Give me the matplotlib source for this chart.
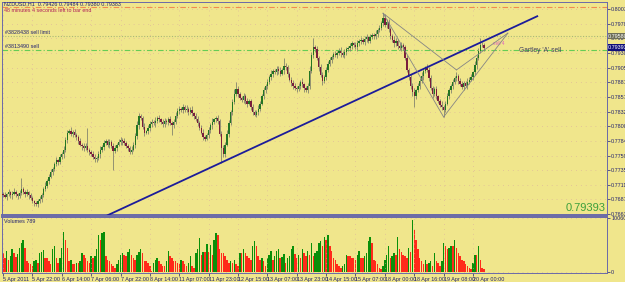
import matplotlib
matplotlib.use("Agg")
import matplotlib.pyplot as plt
import matplotlib.transforms as mtransforms
import numpy as np

# NZDUSD H1, 5 Apr - 20 Apr 2011
# prices are in pips above 0.7600
first_open = 97
closes = [
    95, 92, 96, 99, 94, 97, 100, 96, 93, 98,
    104, 100, 97, 99, 94, 90, 85, 82, 80, 84,
    88, 95, 104, 110, 118, 125, 132, 138, 146, 152,
    150, 158, 162, 170, 186, 198, 201, 196, 199, 194,
    190, 184, 178, 175, 172, 176, 170, 166, 162, 158,
    154, 156, 162, 170, 174, 180, 184, 178, 182, 176,
    168, 172, 178, 182, 186, 184, 180, 176, 172, 166,
    170, 178, 192, 210, 226, 222, 208, 198, 200, 206,
    212, 216, 214, 218, 222, 220, 216, 212, 218, 215,
    220, 214, 210, 216, 226, 234, 238, 236, 240, 236,
    238, 232, 236, 230, 226, 220, 214, 206, 198, 190,
    188, 194, 202, 210, 216, 220, 222, 218, 196, 172,
    162, 178, 196, 214, 232, 248, 262, 270, 262, 256,
    252, 258, 250, 246, 250, 240, 232, 228, 232, 238,
    246, 258, 268, 276, 282, 290, 296, 300, 298, 304,
    300, 296, 302, 308, 306, 296, 286, 280, 276, 272,
    270, 276, 282, 278, 272, 268, 276, 300, 326, 340,
    336, 322, 306, 294, 284, 290, 302, 312, 318, 324,
    328, 326, 330, 334, 330, 326, 332, 336, 338, 342,
    346, 344, 340, 346, 350, 352, 348, 354, 356, 350,
    356, 360, 358, 362, 368, 372, 380, 388, 376, 382,
    370, 358, 352, 346, 350, 342, 338, 344, 340, 322,
    302, 290, 276, 266, 258, 268, 276, 284, 292, 300,
    306, 302, 288, 272, 262, 270, 258, 250, 244, 240,
    236, 246, 258, 268, 276, 282, 288, 292, 284, 278,
    274, 280, 276, 282, 286, 290, 298, 310, 322, 334,
    344, 343, 339]

upper_wick = [
    3, 4, 2, 5, 3, 4, 6, 3, 2, 5,
    18, 4, 3, 5, 2, 4, 3, 2, 3, 4,
    5, 3, 4, 6, 3, 4, 5, 3, 4, 6,
    3, 5, 4, 6, 5, 4, 3, 6, 4, 5,
    3, 4, 5, 3, 6, 4, 29, 3, 4, 5,
    4, 3, 5, 6, 4, 5, 3, 4, 6, 3,
    4, 5, 3, 6, 4, 3, 5, 4, 3, 4,
    5, 4, 6, 8, 5, 3, 4, 6, 3, 4,
    5, 4, 3, 6, 4, 5, 3, 4, 5, 3,
    4, 5, 3, 4, 6, 5, 4, 3, 6, 4,
    5, 3, 4, 6, 3, 4, 5, 3, 4, 6,
    4, 3, 5, 4, 6, 3, 4, 5, 3, 4,
    5, 4, 6, 5, 4, 6, 8, 12, 5, 4,
    3, 5, 4, 6, 3, 4, 5, 3, 4, 6,
    5, 4, 6, 3, 5, 4, 6, 3, 4, 5,
    4, 6, 3, 14, 5, 4, 3, 5, 6, 4,
    3, 5, 4, 6, 3, 4, 5, 8, 6, 15,
    4, 6, 3, 5, 4, 3, 5, 4, 6, 3,
    4, 5, 3, 4, 6, 3, 5, 4, 3, 5,
    4, 3, 5, 6, 4, 5, 3, 4, 6, 3,
    5, 4, 3, 6, 4, 5, 3, 8, 6, 4,
    5, 3, 4, 6, 5, 3, 4, 5, 3, 4,
    4, 3, 5, 4, 6, 3, 4, 5, 6, 4,
    3, 5, 4, 6, 3, 4, 5, 3, 4, 6,
    4, 5, 6, 4, 3, 5, 4, 6, 3, 4,
    5, 3, 4, 6, 4, 5, 3, 6, 5, 4,
    11, 4, 3]

lower_wick = [
    4, 3, 5, 3, 4, 6, 3, 4, 5, 3,
    4, 3, 5, 4, 6, 3, 4, 5, 4, 6,
    3, 5, 4, 3, 4, 6, 3, 5, 4, 3,
    5, 4, 3, 6, 4, 5, 3, 4, 6, 3,
    4, 5, 3, 6, 4, 3, 4, 5, 3, 4,
    5, 4, 3, 6, 4, 5, 3, 4, 5, 4,
    32, 4, 5, 3, 4, 6, 3, 4, 5, 3,
    4, 3, 5, 4, 6, 3, 4, 5, 3, 4,
    5, 4, 3, 6, 4, 5, 3, 4, 5, 3,
    4, 3, 16, 5, 4, 3, 5, 4, 6, 3,
    4, 5, 3, 4, 6, 3, 5, 4, 3, 5,
    4, 3, 5, 4, 6, 3, 4, 5, 4, 24,
    5, 4, 3, 6, 4, 5, 3, 4, 5, 4,
    3, 5, 4, 6, 3, 4, 5, 3, 4, 5,
    4, 3, 5, 4, 6, 3, 4, 5, 3, 4,
    5, 4, 3, 6, 4, 5, 3, 4, 5, 3,
    4, 3, 5, 4, 6, 3, 4, 5, 3, 4,
    5, 4, 6, 3, 7, 4, 5, 3, 4, 5,
    4, 3, 5, 4, 6, 3, 4, 5, 3, 4,
    5, 4, 3, 6, 4, 5, 3, 4, 5, 3,
    4, 3, 5, 4, 6, 3, 4, 5, 3, 4,
    5, 4, 3, 6, 4, 5, 3, 4, 5, 3,
    4, 5, 6, 8, 18, 4, 3, 5, 4, 6,
    3, 4, 5, 3, 6, 4, 5, 3, 4, 5,
    12, 4, 3, 5, 4, 6, 3, 4, 5, 3,
    4, 5, 3, 6, 4, 3, 5, 4, 6, 3,
    4, 3, 5]

volumes = [
    3500, 2600, 3900, 2300, 3000, 4200, 3600, 2800, 3300, 4500,
    5400, 6000, 4500, 2000, 1700, 1400, 1100, 2000, 2300, 1700,
    3500, 3800, 4100, 2600, 2600, 2000, 1500, 4200, 4800, 2600,
    1700, 2600, 4500, 7500, 6000, 4500, 2000, 2300, 1400, 1400,
    1700, 1700, 2000, 3500, 3200, 2600, 2000, 1700, 2900, 2600,
    2900, 4200, 6900, 6000, 7200, 7400, 2900, 2300, 2000, 1400,
    1100, 800, 1400, 2300, 3200, 3500, 3200, 2900, 3800, 4200,
    3200, 2600, 2300, 3200, 3800, 4200, 3500, 2000, 2000, 1700,
    1100, 200, 1700, 2300, 2600, 2000, 1400, 1100, 1100, 2000,
    3900, 2900, 2600, 2000, 2000, 1700, 1400, 2300, 2000, 1400,
    1100, 1700, 2900, 1100, 800, 3500, 4200, 6300, 3200, 3800,
    3800, 5300, 3800, 5100, 3200, 6000, 7200, 6900, 4200, 3500,
    3500, 2900, 2300, 1700, 2000, 1700, 2300, 1400, 1100, 3500,
    3500, 4200, 3500, 2900, 2600, 2300, 4800, 5700, 4800, 2900,
    2300, 2600, 2000, 1100, 2600, 3200, 3900, 2300, 3000, 3900,
    4200, 2600, 2800, 3300, 1700, 2600, 2900, 4200, 4800, 3300,
    2600, 3200, 2600, 4200, 3500, 3000, 3900, 3200, 5400, 2900,
    3500, 3900, 5400, 5700, 4800, 6600, 6000, 6900, 4800, 3900,
    2600, 2300, 1400, 1100, 800, 1100, 1400, 3200, 2900, 2900,
    2600, 2600, 2300, 3200, 3900, 2600, 2600, 2900, 3500, 5700,
    6600, 5400, 2300, 2000, 1400, 800, 500, 1100, 2300, 3200,
    4800, 2600, 2900, 3500, 3200, 6600, 4200, 3800, 3200, 2900,
    2600, 4400, 3800, 9700, 7800, 6000, 4200, 2600, 2000, 1400,
    2300, 1400, 1700, 2000, 1100, 3500, 2000, 1700, 1100, 2000,
    5400, 4800, 4200, 4500, 4800, 4800, 6000, 4500, 3500, 2900,
    2300, 2000, 1400, 1100, 800, 500, 1700, 3200, 3200, 4800,
    2300, 800, 500]

date_bars = [0, 16, 32, 48, 64, 80, 96, 112, 128, 144, 160, 176, 192, 208, 224, 240, 256]
date_labels = ["5 Apr 2011", "5 Apr 22:00", "6 Apr 14:00", "7 Apr 06:00", "7 Apr 22:00",
               "8 Apr 14:00", "11 Apr 07:00", "11 Apr 23:00", "12 Apr 15:00", "13 Apr 07:00",
               "13 Apr 23:00", "14 Apr 15:00", "15 Apr 07:00", "18 Apr 00:00", "18 Apr 16:00",
               "19 Apr 08:00", "20 Apr 00:00"]

price_ticks = [0.80030, 0.79788, 0.79545, 0.79302, 0.79059, 0.78816, 0.78573, 0.78329,
               0.78087, 0.77844, 0.77599, 0.77358, 0.77116, 0.76873, 0.76630]
price_labels = ["0.80030", "0.79788", "0.79545", "0.79302", "0.79059", "0.78816", "0.78573",
                "0.78329", "0.78087", "0.77844", "0.77599", "0.77358", "0.77116", "0.76873",
                "0.76630"]

stop_level = 0.80060
sell_limit_level = 0.79580
sell_level = 0.79350
bid = 0.79393

trend_bars = [57, 291]
trend_prices = [0.7661, 0.7991]

# gartley points X, A, B, D
gart_bars = [207, 240, 247, 275]
gart_prices = [0.7996, 0.7824, 0.7902, 0.7963]

plt.rcParams['font.family'] = ['Liberation Sans', 'DejaVu Sans']

bg = "#F0E68C"
navy = "#202070"
frame = "#6A6AA8"
fs = 3.9

fig = plt.figure(figsize=(6.25, 2.82), dpi=100, facecolor=bg)
ax = fig.add_axes([2/625, 67/282, 605/625, 213/282], facecolor=bg)
axv = fig.add_axes([2/625, 9/282, 605/625, 56/282], facecolor=bg, sharex=ax)

n = len(closes)
idx = np.arange(n)
c = 0.76 + np.array(closes) / 10000
o = np.concatenate([[0.76 + first_open / 10000], c[:-1]])
hi = np.maximum(o, c) + np.array(upper_wick) / 10000
lo = np.minimum(o, c) - np.array(lower_wick) / 10000
up = c >= o

ax.vlines(idx, lo, hi, color="#84846E", lw=0.6, zorder=3)
body = np.maximum(np.abs(c - o), 0.00004)
ax.bar(idx, body, bottom=np.minimum(o, c), width=0.75,
       color=np.where(up, "#237523", "#7A1E3C"), zorder=4, linewidth=0)

# horizontal order lines
ax.axhline(stop_level, color="#F08A50", lw=0.8, ls=(0, (5, 2, 1, 2)), zorder=2)
ax.axhline(sell_limit_level, color="#A8B878", lw=0.8, ls=(0, (1, 1.5)), zorder=2)
ax.axhline(sell_level, color="#66CC55", lw=0.8, ls=(0, (5, 2, 1, 2)), zorder=2)

blend = mtransforms.blended_transform_factory(ax.transAxes, ax.transData)
ax.text(0.005, sell_limit_level + 0.0002, "#3828438 sell limit", transform=blend,
        fontsize=fs, color=navy, va="bottom")
ax.text(0.005, sell_level + 0.0002, "#3813490 sell", transform=blend,
        fontsize=fs, color=navy, va="bottom")
ax.text(281, sell_level, "Gartley 'A' sell", fontsize=4.8, color="#404060", va="center")
ax.text(267, 0.7945, "sell 4", fontsize=3.5, color="#E060C0", va="center")

# trendline and gartley
ax.plot(trend_bars, trend_prices, color="#1C1C9A", lw=1.3, zorder=5)
X, A, B, D = list(zip(gart_bars, gart_prices))
for p1, p2 in [(X, A), (X, B), (A, D), (B, D)]:
    ax.plot([p1[0], p2[0]], [p1[1], p2[1]], color="#858585", lw=0.6, zorder=5)

ax.text(0.997, 0.01, "0.79393", transform=ax.transAxes, ha="right", va="bottom",
        fontsize=8, color="#3CA03C")

# right price labels
for lvl, txt, fc in [(sell_limit_level, "0.79580", "#6E6E58"), (bid, "0.79393", "#10107A")]:
    ax.text(1.002, lvl, txt, transform=blend, fontsize=fs, color="white", va="center",
            ha="left", bbox=dict(facecolor=fc, edgecolor="none", pad=0.5), clip_on=False)

ax.set_xlim(-0.55, 329)
ax.set_ylim(0.76614, 0.80146)
ax.yaxis.tick_right()
ax.set_yticks(price_ticks)
ax.set_yticklabels(price_labels)
ax.tick_params(axis="y", labelsize=fs, colors=navy, length=2, width=0.5, pad=1)
ax.tick_params(axis="x", bottom=False, labelbottom=False)
ax.grid(True, color="#D8A8A0", lw=0.5, ls=(0, (1, 6)))
for s in ax.spines.values():
    s.set_color(frame)
    s.set_linewidth(0.7)
ax.spines["bottom"].set_linewidth(1.4)

# volumes
vol = np.array(volumes)
vcol = ["#0A8F0A" if i > 0 and vol[i] > vol[i - 1] else "#FF2A1A" for i in range(n)]
axv.bar(idx, vol, width=0.8, color=vcol, linewidth=0)
axv.set_ylim(-200, 10250)
axv.yaxis.tick_right()
axv.set_yticks([0, 10060])
axv.set_yticklabels(["0", "10060"])
axv.tick_params(axis="y", labelsize=fs, colors=navy, length=2, width=0.5, pad=1)
axv.set_xticks(date_bars)
axv.set_xticklabels(date_labels, ha="left")
axv.tick_params(axis="x", labelsize=fs, colors=navy, length=2, width=0.5, pad=1)
axv.grid(True, color="#D8A8A0", lw=0.5, ls=(0, (1, 6)))
axv.text(0.004, 0.96, "Volumes 789", transform=axv.transAxes, fontsize=fs,
         color=navy, va="top")
for s in axv.spines.values():
    s.set_color(frame)
    s.set_linewidth(0.7)
axv.spines["top"].set_linewidth(1.4)

fig.text(4/625, 1 - 4/282, "NZDUSD,H1  0.79426 0.79484 0.79380 0.79383", fontsize=fs,
         color=navy, va="center")
fig.text(4/625, 1 - 10/282, "48 minutes 4 seconds left to bar end", fontsize=fs,
         color="#B0205A", va="center")

fig.savefig("out.png", dpi=100, facecolor=bg)
